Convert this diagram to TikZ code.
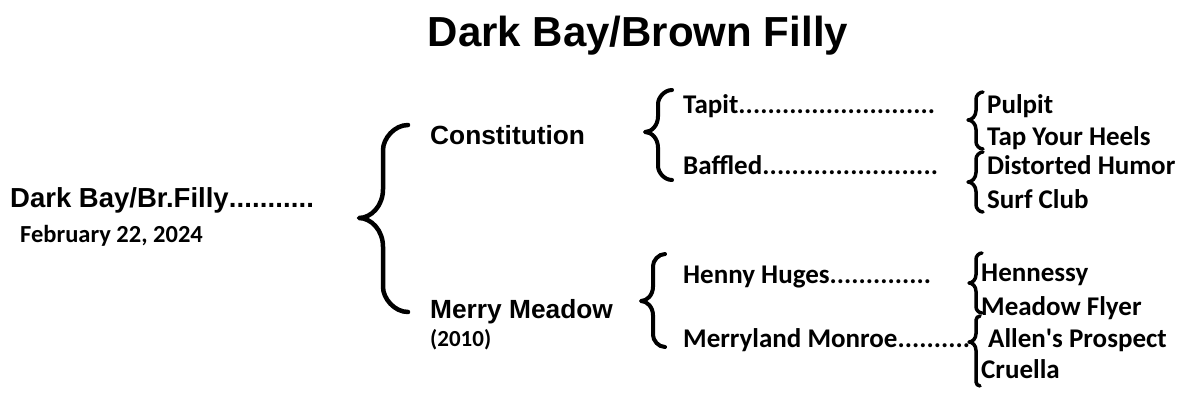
\documentclass[tikz,border=0pt]{standalone}
\usepackage{fontspec}
\setmainfont{Carlito}
\newfontfamily\arialfont{Liberation Sans}
\newcommand\dl[2]{\hbox to #1{#2\xleaders\hbox{.}\hfill}}
% xe = arm end x, xv = vertical x, xt = tip x, yt = top y, ym = tip y, yb = bottom y
\newcommand\curly[7][]{%
  \draw[bracestyle,#1] (#2,#5)
    .. controls ({#2-0.55*(#2-#3)},#5) and (#3,{#5+0.55*(#2-#3)}) .. (#3,{#5+(#2-#3)})
    -- (#3,{#6-1.2*(#3-#4)})
    .. controls (#3,{#6-0.5*(#3-#4)}) and ({#4+0.5*(#3-#4)},#6) .. (#4,#6)
    .. controls ({#4+0.5*(#3-#4)},#6) and (#3,{#6+0.5*(#3-#4)}) .. (#3,{#6+1.2*(#3-#4)})
    -- (#3,{#7-(#2-#3)})
    .. controls (#3,{#7-0.55*(#2-#3)}) and ({#2-0.55*(#2-#3)},#7) .. (#2,#7);}
\begin{document}
\begin{tikzpicture}[x=1pt,y=-1pt,
  bracestyle/.style={draw=black,line width=4.5pt,line cap=round,line join=round},
  ttl/.style={font=\arialfont\bfseries\fontsize{42}{48}\selectfont,anchor=base,inner sep=0},
  ar/.style={font=\arialfont\bfseries\fontsize{26.3}{30}\selectfont,anchor=base west,inner sep=0},
  ca/.style={font=\bfseries\fontsize{27}{30}\selectfont,anchor=base west,inner sep=0},
  cs/.style={font=\bfseries\fontsize{24.5}{28}\selectfont,anchor=base west,inner sep=0},
  cy/.style={font=\bfseries\fontsize{23}{26}\selectfont,anchor=base west,inner sep=0}]
\useasboundingbox (0,0) rectangle (1183,405);
\fill[white] (0,0) rectangle (1183,405);

\node[ttl] (title) at (638,46) {Dark Bay/Brown Filly};

\node[ar,font=\arialfont\bfseries\fontsize{27.5}{32}\selectfont] (foal) at (10,207) {\dl{304pt}{Dark Bay/Br.Filly}};
\node[cs] (date) at (20,242) {February 22, 2024};

\node[ar] (sire) at (430,144) {Constitution};
\node[ar] (dam) at (430,318) {Merry Meadow};
\node[cy] (damyr) at (430,346) {(2010)};

\node[ca] (ss) at (683,113) {\dl{252pt}{Tapit}};
\node[ca] (sd) at (683,174) {\dl{255pt}{Baffled}};
\node[ca] (ds) at (683,283) {\dl{248pt}{Henny Huges}};
\node[ca] (dd) at (683,347) {\dl{287pt}{Merryland Monroe}};

\node[ca] (sss) at (987,113) {Pulpit};
\node[ca] (ssd) at (987,145) {Tap Your Heels};
\node[ca] (sds) at (987,174) {Distorted Humor};
\node[ca] (sdd) at (987,208) {Surf Club};
\node[ca] (dss) at (981,281) {Hennessy};
\node[ca] (dsd) at (981,315) {Meadow Flyer};
\node[ca] (dds) at (988,347) {Allen\textquotesingle s Prospect};
\node[ca] (ddd) at (981,378) {Cruella};

% braces
\curly{408}{383}{359}{125}{218}{312}
\curly[line width=4pt]{672}{658}{645}{90}{132}{180}
\curly[line width=4pt]{665}{653}{641}{254}{301}{347}
\curly[line width=3.5pt]{983}{976}{968}{92}{120}{149}
\curly[line width=3.5pt]{983}{976}{968}{152}{182}{212}
\curly[line width=3.5pt]{982}{976}{969}{253}{283}{313}
\curly[line width=3.5pt]{980}{976}{969}{316}{342}{386}
\end{tikzpicture}
\end{document}
